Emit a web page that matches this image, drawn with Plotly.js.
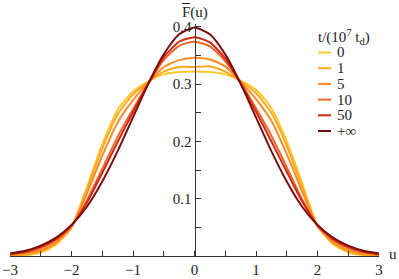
<!DOCTYPE html>
<html>
<head>
<meta charset="utf-8">
<script src="https://cdn.plot.ly/plotly-3.0.1.min.js"></script>
<style>html,body{margin:0;padding:0;background:#fff;}#chart{width:399px;height:279px;}</style>
</head>
<body>
<div id="chart"></div>
<script>
const u = [-3,-2.75,-2.5,-2.25,-2,-1.75,-1.5,-1.25,-1,-0.75,-0.5,-0.25,0,0.25,0.5,0.75,1,1.25,1.5,1.75,2,2.25,2.5,2.75,3];
const seriesLabels = ["0","1","5","10","50","+\u221e"];
const seriesColors = ["#FFC72C","#FFA91E","#FC8A25","#F06424","#CF2A14","#7C0B0B"];
const f_t0   = [0.0003,0.0015,0.006,0.020,0.050,0.120,0.195,0.255,0.287,0.305,0.317,0.321,0.322,0.321,0.317,0.306,0.290,0.258,0.200,0.127,0.053,0.021,0.006,0.0015,0.0003];
const f_t1   = [0.0008,0.0025,0.008,0.022,0.050,0.116,0.188,0.247,0.282,0.304,0.322,0.330,0.330,0.331,0.322,0.305,0.284,0.250,0.192,0.121,0.052,0.023,0.008,0.0025,0.0008];
const f_t5   = [0.0015,0.004,0.010,0.024,0.051,0.109,0.175,0.233,0.272,0.303,0.330,0.342,0.346,0.343,0.331,0.304,0.274,0.236,0.178,0.113,0.052,0.025,0.010,0.004,0.0015];
const f_t10  = [0.003,0.0065,0.014,0.028,0.052,0.097,0.152,0.208,0.256,0.302,0.342,0.367,0.374,0.366,0.340,0.303,0.258,0.210,0.155,0.099,0.053,0.028,0.014,0.0065,0.003];
const f_t50  = [0.0035,0.0075,0.016,0.030,0.053,0.093,0.145,0.199,0.251,0.301,0.347,0.374,0.382,0.373,0.345,0.301,0.252,0.200,0.147,0.095,0.054,0.030,0.016,0.0075,0.0035];
const f_tinf = [0.0044,0.009,0.018,0.032,0.054,0.086,0.130,0.183,0.242,0.301,0.352,0.387,0.399,0.387,0.352,0.301,0.242,0.183,0.130,0.086,0.054,0.032,0.018,0.009,0.0044];
const seriesValues = [f_t0,f_t1,f_t5,f_t10,f_t50,f_tinf];
const xTickVals = [-3,-2,-1,0,1,2,3];
const xTickText = ["\u22123","\u22122","\u22121","0","1","2","3"];
const yTickVals = [0.1,0.2,0.3,0.4];
const yTickText = ["0.1","0.2","0.3","0.4"];

const FONT = "Liberation Serif";
const TXT = "#222";
const W = 399, H = 279;
const M = {l:10, r:20, t:24, b:23};
const pw = W - M.l - M.r, ph = H - M.t - M.b;
const px2x = p => (p - M.l) / pw;
const py2y = p => (H - M.b - p) / ph;

const traces = seriesValues.map((vals, i) => ({
  x: u, y: vals, type: "scatter", mode: "lines",
  name: seriesLabels[i],
  line: {color: seriesColors[i], width: 2, shape: "spline", smoothing: 0.6},
  showlegend: false, hoverinfo: "skip"
}));

const shapes = [];
const annotations = [];
const legX0 = 318, legX1 = 331, legTextX = 335;
const legY0 = 52.5, legDy = 15.7;
seriesLabels.forEach((lab, i) => {
  const yy = py2y(legY0 + i * legDy);
  shapes.push({type: "line", xref: "paper", yref: "paper",
    x0: px2x(legX0), x1: px2x(legX1), y0: yy, y1: yy,
    line: {color: seriesColors[i], width: 2}});
  annotations.push({xref: "paper", yref: "paper", x: px2x(legTextX), y: yy,
    xanchor: "left", yanchor: "middle", showarrow: false, text: lab,
    font: {family: FONT, size: 15, color: TXT}});
});
annotations.push({xref: "paper", yref: "paper", x: px2x(316), y: py2y(37),
  xanchor: "left", yanchor: "middle", showarrow: false,
  text: "t/(10<sup>7</sup> t<sub>d</sub>)", font: {family: FONT, size: 15, color: TXT}});
annotations.push({xref: "paper", yref: "paper", x: px2x(387), y: py2y(254),
  xanchor: "left", yanchor: "middle", showarrow: false, text: "u",
  font: {family: FONT, size: 15, color: TXT}});
annotations.push({xref: "paper", yref: "paper", x: px2x(195), y: py2y(12),
  xanchor: "center", yanchor: "middle", showarrow: false, text: "F(u)",
  font: {family: FONT, size: 15, color: TXT}});
// overline on F
shapes.push({type: "line", xref: "paper", yref: "paper",
  x0: px2x(182), x1: px2x(190), y0: py2y(3.5), y1: py2y(3.5),
  line: {color: TXT, width: 1}});

const layout = {
  width: W, height: H,
  margin: M,
  paper_bgcolor: "#fff", plot_bgcolor: "#fff",
  showlegend: false,
  font: {family: FONT, size: 15, color: TXT},
  xaxis: {
    range: [-3, 3], showgrid: false, zeroline: false,
    showline: true, linecolor: "#333", linewidth: 1,
    tickmode: "array", tickvals: xTickVals, ticktext: xTickText,
    ticks: "inside", ticklen: 5, tickcolor: "#333", tickwidth: 1,
    minor: {dtick: 0.5, tick0: 0, ticks: "inside", ticklen: 5, tickcolor: "#333", tickwidth: 1, showgrid: false},
    tickfont: {family: FONT, size: 15, color: TXT},
    fixedrange: true
  },
  yaxis: {
    range: [0, 0.405], showgrid: false, zeroline: false,
    anchor: "free", position: 0.5, side: "left",
    showline: true, linecolor: "#333", linewidth: 1,
    tickmode: "array", tickvals: yTickVals, ticktext: yTickText,
    ticks: "inside", ticklen: 5, tickcolor: "#333", tickwidth: 1,
    minor: {dtick: 0.05, tick0: 0, ticks: "inside", ticklen: 5, tickcolor: "#333", tickwidth: 1, showgrid: false},
    tickfont: {family: FONT, size: 15, color: TXT},
    fixedrange: true
  },
  shapes: shapes,
  annotations: annotations
};

Plotly.newPlot("chart", traces, layout, {staticPlot: true, displayModeBar: false});
</script>
</body>
</html>
